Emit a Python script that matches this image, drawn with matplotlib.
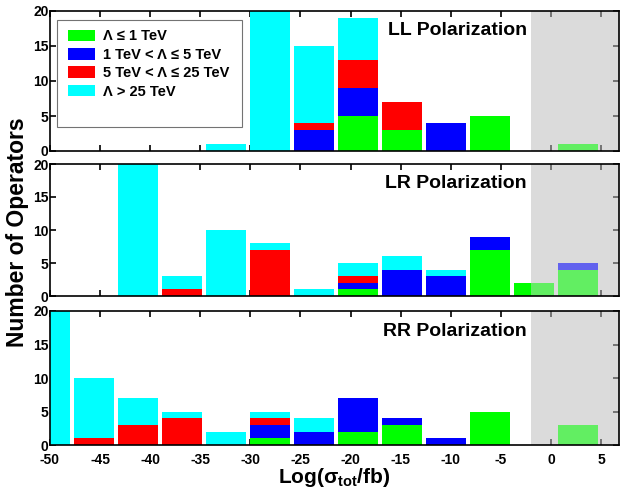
import numpy as np
import matplotlib
matplotlib.use("Agg")
import matplotlib.pyplot as plt
from matplotlib.patches import Rectangle, Patch

plt.rcParams['font.family'] = ['Liberation Sans', 'DejaVu Sans']
plt.rcParams['font.weight'] = 'bold'
plt.rcParams['axes.unicode_minus'] = False
plt.rcParams['mathtext.fontset'] = 'custom'
plt.rcParams['mathtext.rm'] = 'Liberation Sans:bold'
plt.rcParams['mathtext.bf'] = 'Liberation Sans:bold'
plt.rcParams['mathtext.it'] = 'Liberation Sans:bold'

# bin centres of Log(sigma_tot/fb)
centers = [-50.05, -45.65, -41.25, -36.85, -32.45, -28.05, -23.65,
           -19.25, -14.85, -10.45, -6.05, -1.65, 2.75]

# counts per bin, one list per Lambda class
ll_green = [0, 0, 0, 0, 0, 0, 0, 5, 3, 0, 5, 0, 1]
ll_blue = [0, 0, 0, 0, 0, 0, 3, 4, 0, 4, 0, 0, 0]
ll_red = [0, 0, 0, 0, 0, 0, 1, 4, 4, 0, 0, 0, 0]
ll_cyan = [0, 0, 0, 0, 1, 20, 11, 6, 0, 0, 0, 0, 0]

lr_green = [0, 0, 0, 0, 0, 0, 0, 1, 0, 0, 7, 2, 4]
lr_blue = [0, 0, 0, 0, 0, 0, 0, 1, 4, 3, 2, 0, 1]
lr_red = [0, 0, 0, 1, 0, 7, 0, 1, 0, 0, 0, 0, 0]
lr_cyan = [0, 0, 20, 2, 10, 1, 1, 2, 2, 1, 0, 0, 0]

rr_green = [0, 0, 0, 0, 0, 1, 0, 2, 3, 0, 5, 0, 3]
rr_blue = [0, 0, 0, 0, 0, 2, 2, 5, 1, 1, 0, 0, 0]
rr_red = [0, 1, 3, 4, 0, 1, 0, 0, 0, 0, 0, 0, 0]
rr_cyan = [20, 9, 4, 1, 2, 1, 2, 0, 0, 0, 0, 0, 0]

labels = ['\u039b \u2264 1 TeV', '1 TeV < \u039b \u2264 5 TeV',
          '5 TeV < \u039b \u2264 25 TeV', '\u039b > 25 TeV']
colors = [(0, 1, 0), (0, 0, 1), (1, 0, 0), (0, 1, 1)]
titles = ['LL Polarization', 'LR Polarization', 'RR Polarization']
panels = [
    (ll_green, ll_blue, ll_red, ll_cyan),
    (lr_green, lr_blue, lr_red, lr_cyan),
    (rr_green, rr_blue, rr_red, rr_cyan),
]

W, H = 620, 490
fig = plt.figure(figsize=(W / 100, H / 100), dpi=100)

# axes boxes in pixels: (top, bottom)
boxes = [(11, 151), (164, 296), (311, 445)]
left_px, right_px = 50, 619

axes = []
for (top, bot), series, title in zip(boxes, panels, titles):
    ax = fig.add_axes([left_px / W, 1 - bot / H, (right_px - left_px) / W, (bot - top) / H])
    axes.append(ax)
    ax.axvspan(-2, 10, color=(0.86, 0.86, 0.86), zorder=0, lw=0)
    bottom = np.zeros(len(centers))
    for vals, c in zip(series, colors):
        ax.bar(centers, vals, width=4.0, bottom=bottom, color=c, zorder=2, lw=0)
        bottom += np.array(vals)
    # translucent grey on top of bars in the shaded region
    ax.axvspan(-2, 10, color=(0.86, 0.86, 0.86), alpha=0.45, zorder=3, lw=0)
    ax.set_xlim(-50, 6.8)
    ax.set_ylim(0, 20)
    ax.set_xticks(np.arange(-50, 6, 5))
    ax.set_yticks([0, 5, 10, 15, 20])
    ax.tick_params(direction='in', top=True, right=True, length=4, width=1.2,
                   labelsize=10, pad=1)
    for lab in ax.get_xticklabels() + ax.get_yticklabels():
        lab.set_fontweight('bold')
    for s in ax.spines.values():
        s.set_linewidth(1.2)
        s.set_zorder(5)
    ax.text(-2.4, 20 - 20 * 20 / (bot - top), title, ha='right', va='center',
            fontsize=14, fontweight='bold', zorder=6)

for ax in axes[:2]:
    ax.set_xticklabels([])
axes[2].tick_params(axis='x', pad=6)

axes[2].set_xlabel(r'Log($\sigma_{\mathrm{tot}}$/fb)', fontsize=15, fontweight='bold', labelpad=-1)

fig.text(18 / W, 1 - 232 / H, 'Number of Operators', rotation=90, ha='center', va='center',
         fontsize=16.5, fontweight='bold')

# legend box in the LL panel (MATLAB style with empty space below)
lx0, lx1, ly0, ly1 = 57, 242, 20, 127
fig.patches.append(Rectangle((lx0 / W, 1 - ly1 / H), (lx1 - lx0) / W, (ly1 - ly0) / H,
                             transform=fig.transFigure, facecolor='white',
                             edgecolor=(0.45, 0.45, 0.45), lw=0.8, zorder=10))
handles = [Patch(facecolor=c, edgecolor='none') for c in colors]
leg = fig.legend(handles, labels, loc='upper left',
                 bbox_to_anchor=(59 / W, 1 - 20 / H), frameon=False,
                 prop={'family': ['Liberation Sans', 'DejaVu Sans'], 'weight': 'bold', 'size': 10.5},
                 handlelength=1.8, handleheight=0.85, handletextpad=0.6,
                 labelspacing=0.3, borderpad=0.15)
leg.set_zorder(11)

fig.savefig('out.png', dpi=100)
